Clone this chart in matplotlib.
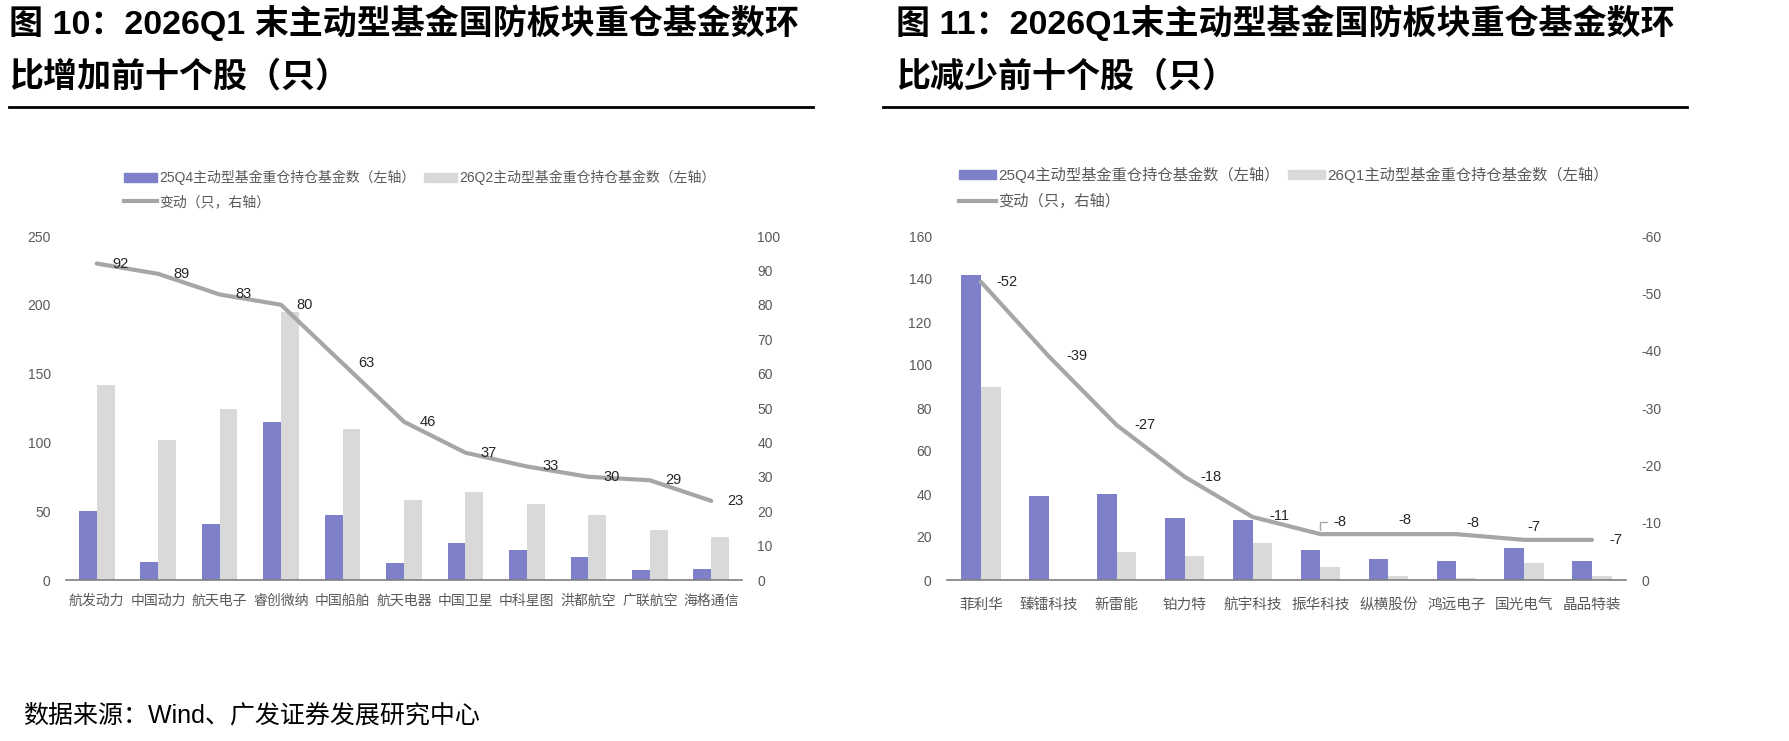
import matplotlib
matplotlib.use("Agg")
import matplotlib.pyplot as plt
from matplotlib.patches import Patch
from matplotlib.lines import Line2D

plt.rcParams['font.family'] = ['Liberation Sans', 'Noto Sans CJK SC', 'DejaVu Sans']
plt.rcParams['axes.unicode_minus'] = False

# data: left chart (increase)
inc_names = ['航发动力', '中国动力', '航天电子', '睿创微纳', '中国船舶', '航天电器',
             '中国卫星', '中科星图', '洪都航空', '广联航空', '海格通信']
inc_q4 = [50, 13, 41, 115, 47, 12, 27, 22, 17, 7, 8]
inc_q1 = [142, 102, 124, 195, 110, 58, 64, 55, 47, 36, 31]
inc_chg = [92, 89, 83, 80, 63, 46, 37, 33, 30, 29, 23]

# data: right chart (decrease)
dec_names = ['菲利华', '臻镭科技', '新雷能', '铂力特', '航宇科技', '振华科技',
             '纵横股份', '鸿远电子', '国光电气', '晶品特装']
dec_q4 = [142, 39, 40, 29, 28, 14, 10, 9, 15, 9]
dec_q1 = [90, 0, 13, 11, 17, 6, 2, 1, 8, 2]
dec_chg = [-52, -39, -27, -18, -11, -8, -8, -8, -7, -7]

BLUE = '#7E80CA'
LGRAY = '#D9D9D9'
LINE = '#A6A6A6'
TXT = '#595959'

W, H = 1790, 741
fig = plt.figure(figsize=(W / 100, H / 100), dpi=100)


def fx(px):
    return px / W


def fy(py):
    return 1 - py / H


def panel(left_px, right_px, names, q4, q1, chg, ylim, yticks, y2lim, y2ticks,
          lbl_off, q1_label, leg_xy, leg_fs, xfs, xpad):
    ax = fig.add_axes([fx(left_px), fy(580), fx(right_px - left_px), 344 / H])
    x = list(range(len(names)))
    w = 0.29
    ax.bar([i - w / 2 for i in x], q4, width=w, color=BLUE, zorder=2)
    ax.bar([i + w / 2 for i in x], q1, width=w, color=LGRAY, zorder=2)
    ax.set_xlim(-0.5, len(names) - 0.5)
    ax.set_ylim(*ylim)
    ax.set_yticks(yticks)
    ax.set_xticks(x)
    ax.set_xticklabels(names, fontsize=xfs, color=TXT)
    ax.tick_params(axis='y', length=0, pad=11, labelsize=10, labelcolor=TXT)
    ax.tick_params(axis='x', length=0, pad=xpad)
    for s in ['top', 'left', 'right']:
        ax.spines[s].set_visible(False)
    ax.spines['bottom'].set_color('#7F7F7F')
    ax.spines['bottom'].set_linewidth(1.2)

    ax2 = ax.twinx()
    ax2.plot(x, chg, color=LINE, lw=3, solid_capstyle='round', zorder=3)
    ax2.set_ylim(*y2lim)
    ax2.set_yticks(y2ticks)
    ax2.tick_params(axis='y', length=0, pad=11, labelsize=10, labelcolor=TXT)
    for s in ax2.spines.values():
        s.set_visible(False)

    for i, v in enumerate(chg):
        dx, dy, lead = lbl_off[i]
        if lead:
            ax2.annotate(str(v), (i, v), xytext=(dx, dy), textcoords='offset points',
                         ha='left', va='center', fontsize=10.5, color='#262626',
                         arrowprops=dict(arrowstyle='-', color=LINE, lw=1,
                                         connectionstyle='angle,angleA=0,angleB=90,rad=0',
                                         relpos=(0, 0.5), shrinkA=2, shrinkB=3))
        else:
            ax2.annotate(str(v), (i, v), xytext=(dx, dy), textcoords='offset points',
                         ha='center', va='center', fontsize=10.5, color='#262626')

    handles = [Patch(color=BLUE), Line2D([], [], color=LINE, lw=3), Patch(color=LGRAY)]
    labels = ['25Q4主动型基金重仓持仓基金数（左轴）', '变动（只，右轴）', q1_label]
    ax2.legend(handles, labels, loc='upper left', bbox_to_anchor=(fx(leg_xy[0]), fy(leg_xy[1])),
               bbox_transform=fig.transFigure, ncol=2, frameon=False, fontsize=leg_fs,
               handlelength=2.4, handleheight=0.55, handletextpad=0.15, columnspacing=0.6,
               labelspacing=0.7, borderpad=0, borderaxespad=0, labelcolor=TXT)
    return ax, ax2


left_off = [(17, 0, False)] * len(inc_chg)
right_off = [(19, 0, False), (20, 0, False), (20, 0, False), (19, 0, False), (19, 1, False),
             (9, 9, True), (12, 10, False), (12, 8, False), (7, 9, False), (17, 0, False)]

panel(66, 742, inc_names, inc_q4, inc_q1, inc_chg, (0, 250), range(0, 251, 50),
      (0, 100), range(0, 101, 10), left_off, '26Q2主动型基金重仓持仓基金数（左轴）',
      (124, 170), 10, 10, 10)
panel(947, 1626, dec_names, dec_q4, dec_q1, dec_chg, (0, 160), range(0, 161, 20),
      (0, -60), range(0, -61, -10), right_off, '26Q1主动型基金重仓持仓基金数（左轴）',
      (959, 167), 11, 10.5, 13)

# titles
tfs = 24.5
fig.text(fx(9), fy(23), '图 10：2026Q1 末主动型基金国防板块重仓基金数环', fontsize=tfs,
         fontweight='bold', va='center', ha='left', color='#000000')
fig.text(fx(9), fy(77), '比增加前十个股（只）', fontsize=tfs,
         fontweight='bold', va='center', ha='left', color='#000000')
fig.text(fx(896), fy(23), '图 11：2026Q1末主动型基金国防板块重仓基金数环', fontsize=tfs,
         fontweight='bold', va='center', ha='left', color='#000000')
fig.text(fx(896), fy(77), '比减少前十个股（只）', fontsize=tfs,
         fontweight='bold', va='center', ha='left', color='#000000')
fig.add_artist(Line2D([fx(9), fx(813)], [fy(107), fy(107)], color='black', lw=2))
fig.add_artist(Line2D([fx(883), fx(1687)], [fy(107), fy(107)], color='black', lw=2))

fig.text(fx(23), fy(716), '数据来源：Wind、广发证券发展研究中心', fontsize=18,
         va='center', ha='left', color='#000000')

fig.savefig('out.png', dpi=100)
